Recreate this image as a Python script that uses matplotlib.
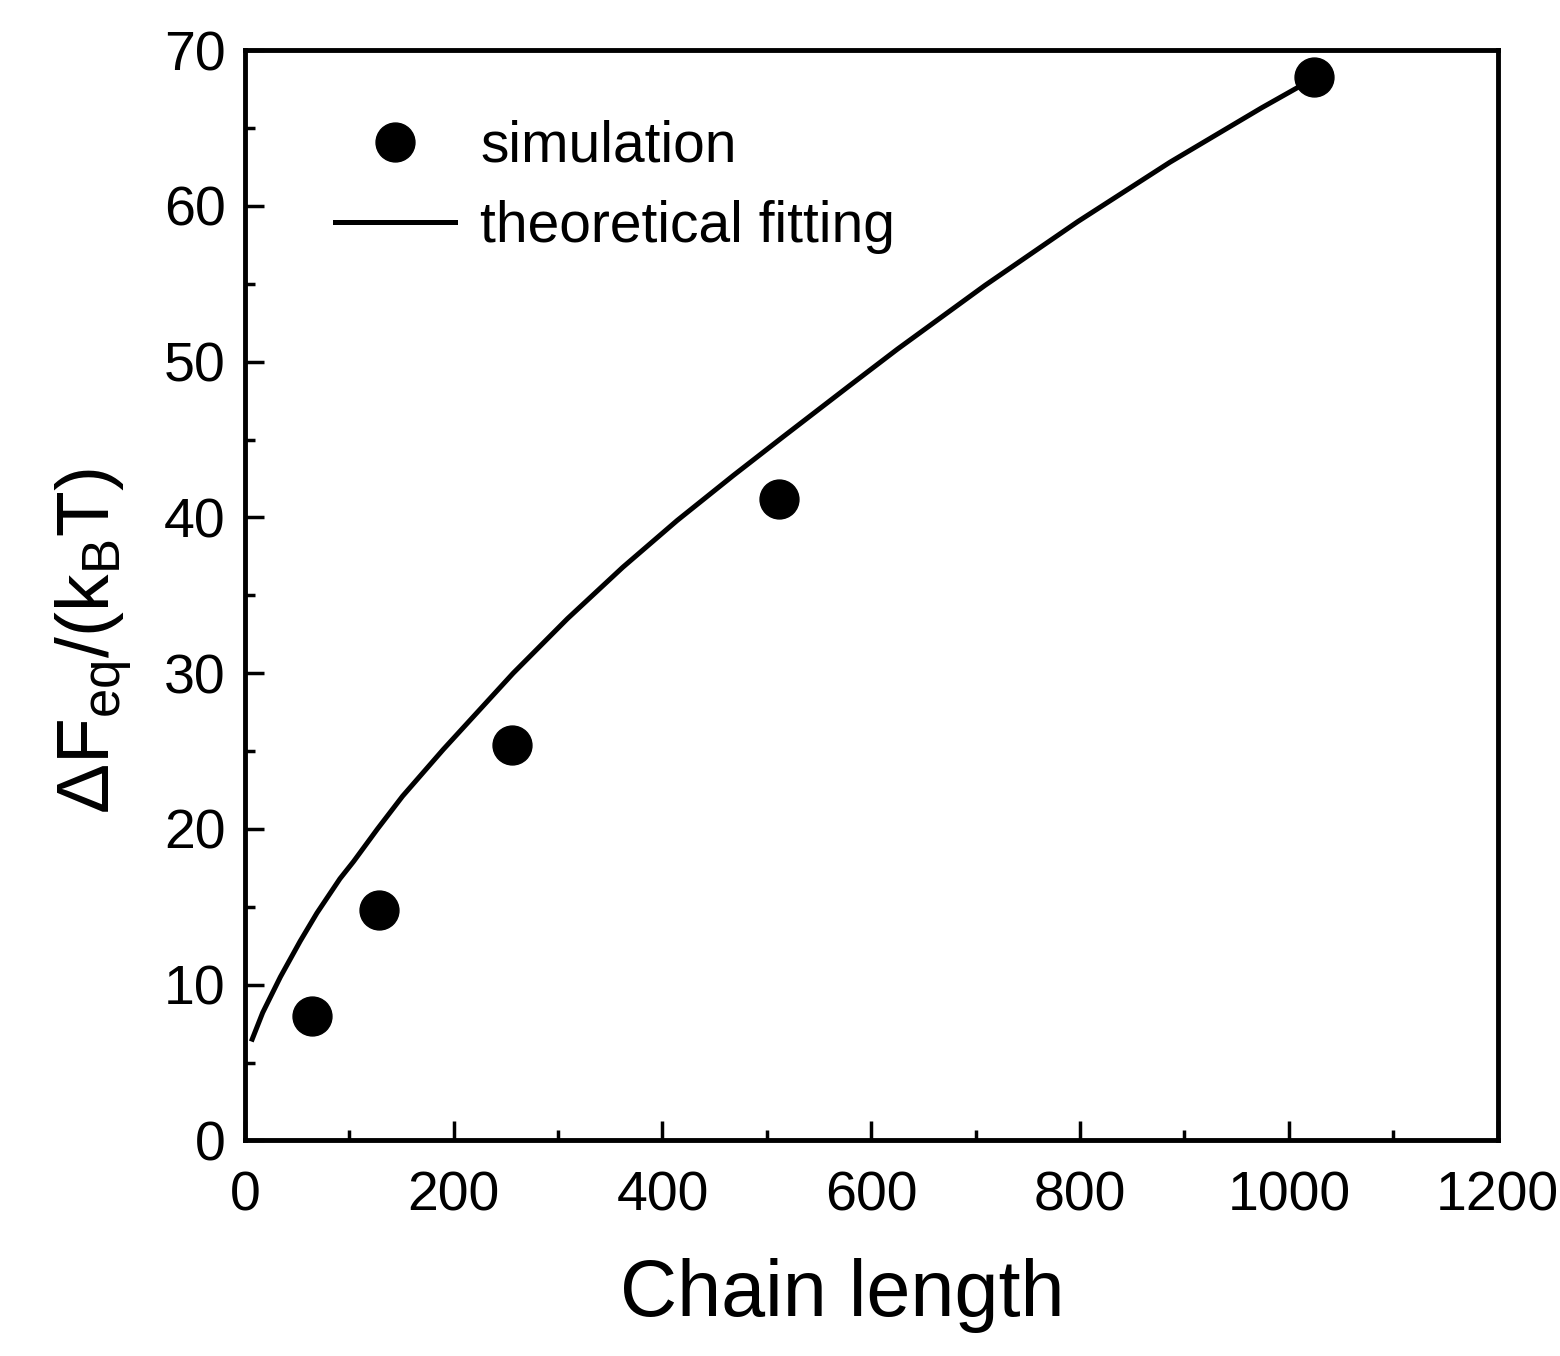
import matplotlib
matplotlib.use("Agg")
import matplotlib.pyplot as plt
from matplotlib.ticker import MultipleLocator

plt.rcParams["font.family"] = ["Liberation Sans", "DejaVu Sans"]
plt.rcParams["mathtext.default"] = "regular"

# Simulated equilibrium free-energy barrier versus chain length
chain_length = [64, 128, 256, 512, 1024]
delta_f_sim = [8.0, 14.8, 25.4, 41.2, 68.3]

# Theoretical fitting curve
fit_length = [7, 17, 34, 53, 69, 91, 104, 127, 151, 190, 257, 309, 362,
              414, 468, 516, 580, 625, 709, 798, 886, 974, 1019]
fit_delta_f = [6.5, 8.2, 10.5, 12.8, 14.6, 16.8, 17.9, 20.0, 22.1, 25.1,
               30.0, 33.5, 36.8, 39.8, 42.7, 45.2, 48.5, 50.8, 54.9, 59.0,
               62.8, 66.3, 68.0]

x_ticks = [0, 200, 400, 600, 800, 1000, 1200]
y_ticks = [0, 10, 20, 30, 40, 50, 60, 70]

fig = plt.figure(figsize=(15.6, 13.56), dpi=100)
ax = fig.add_axes([0.157, 0.159, 0.803, 0.804])

ax.plot(chain_length, delta_f_sim, "o", color="black", markersize=28,
        label="simulation", zorder=3)
ax.plot(fit_length, fit_delta_f, "-", color="black", linewidth=3.6,
        label="theoretical fitting")

ax.set_xlim(0, 1200)
ax.set_ylim(0, 70)
ax.set_xticks(x_ticks)
ax.set_yticks(y_ticks)
ax.xaxis.set_minor_locator(MultipleLocator(100))
ax.yaxis.set_minor_locator(MultipleLocator(5))
ax.tick_params(which="both", direction="in", top=False, right=False,
               width=2.5, labelsize=40)
ax.tick_params(axis="x", pad=22)
ax.tick_params(axis="y", pad=14)
ax.tick_params(which="major", length=14)
ax.tick_params(which="minor", length=7)
for spine in ax.spines.values():
    spine.set_linewidth(3.5)

ax.set_xlabel("Chain length", fontsize=57)
ax.xaxis.set_label_coords(0.477, -0.108)
ax.set_ylabel(r"$\Delta$F$_{eq}$/(k$_B$T)", fontsize=54)
ax.yaxis.set_label_coords(-0.088, 0.458)

ax.legend(loc="upper left", bbox_to_anchor=(0.072, 0.936), frameon=False,
          fontsize=41, handlelength=2.1, handletextpad=0.45,
          borderaxespad=0, borderpad=0, labelspacing=0.45, numpoints=1)

fig.savefig("out.png", dpi=100)
